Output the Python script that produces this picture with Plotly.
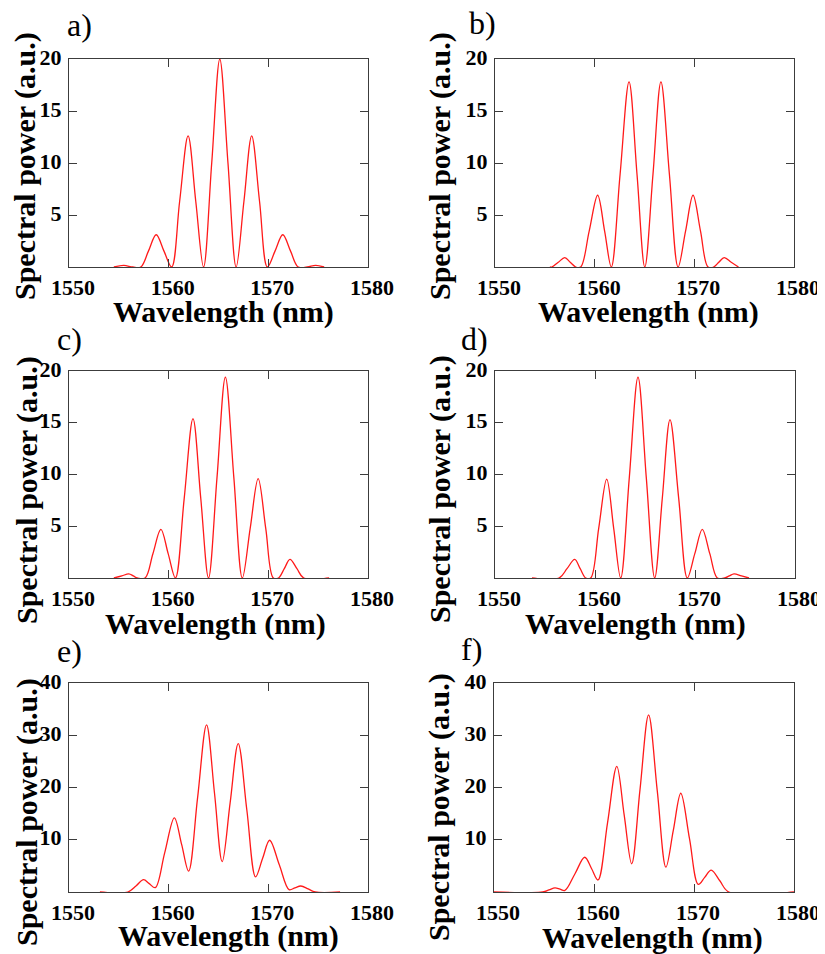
import plotly.graph_objects as go

# ---------------- data ----------------
panel_labels = ["a)", "b)", "c)", "d)", "e)", "f)"]
x_axis_title = "Wavelength (nm)"
y_axis_title = "Spectral power (a.u.)"
x_tick_vals = [1550, 1560, 1570, 1580]
y_tick_vals_small = [5, 10, 15, 20]
y_tick_vals_large = [10, 20, 30, 40]

wl_a = [1554.5, 1555.5, 1556.4, 1557.2, 1557.98, 1558.75, 1559.52, 1560.3, 1561.1, 1561.95,
        1562.72, 1563.5, 1564.32, 1565.13, 1565.95, 1566.77, 1567.55, 1568.33, 1569.12, 1569.9,
        1570.68, 1571.45, 1572.22, 1573.0, 1573.9, 1574.75, 1575.6]
pw_a = [0, 0.15, 0, 0, 1.55, 3.1, 1.55, 0, 6.3, 12.6,
        6.3, 0, 10, 20, 10, 0, 6.3, 12.6, 6.3, 0,
        1.55, 3.1, 1.55, 0, 0, 0.15, 0]

wl_b = [1555.5, 1555.7, 1556.35, 1557.0, 1557.55, 1558.1, 1558.6, 1559.45, 1560.3, 1561.0,
        1561.67, 1562.55, 1563.45, 1564.25, 1565.03, 1565.85, 1566.65, 1567.5, 1568.37, 1569.12,
        1569.87, 1570.62, 1571.37, 1571.93, 1572.45, 1573.0, 1573.7, 1574.43]
pw_b = [0, 0, 0.45, 0.9, 0.45, 0, 0, 3.45, 6.9, 3.45,
        0, 8.9, 17.8, 8.9, 0, 8.9, 17.8, 8.9, 0, 3.45,
        6.9, 3.45, 0, 0, 0.45, 0.9, 0.45, 0]

wl_c = [1554.5, 1555.3, 1556.0, 1556.45, 1556.85, 1557.63, 1558.42, 1559.22, 1559.95, 1560.68,
        1561.56, 1562.44, 1563.22, 1564.0, 1564.85, 1565.69, 1566.54, 1567.39, 1568.18, 1568.98,
        1569.74, 1570.5, 1571.02, 1571.6, 1572.17, 1572.87, 1573.56, 1576.1]
pw_c = [0, 0.2, 0.4, 0.2, 0, 0, 2.35, 4.7, 2.35, 0,
        7.7, 15.4, 7.7, 0, 9.7, 19.4, 9.7, 0, 4.8, 9.6,
        4.8, 0, 0, 0.9, 1.8, 0.9, 0, 0]

wl_d = [1553.7, 1556.4, 1557.2, 1557.97, 1558.52, 1559.07, 1559.57, 1560.37, 1561.17, 1561.87,
        1562.57, 1563.43, 1564.3, 1565.13, 1565.97, 1566.73, 1567.5, 1568.37, 1569.23, 1569.98,
        1570.73, 1571.48, 1572.23, 1572.97, 1573.43, 1573.9, 1574.65, 1575.4]
pw_d = [0, 0, 0.9, 1.8, 0.9, 0, 0, 4.8, 9.55, 4.8,
        0, 9.7, 19.4, 9.7, 0, 7.7, 15.3, 7.7, 0, 2.35,
        4.7, 2.35, 0, 0, 0.2, 0.4, 0.2, 0]

wl_e = [1553.1, 1555.9, 1556.75, 1557.48, 1558.05, 1558.66, 1559.6, 1560.57, 1561.3, 1562.0,
        1562.9, 1563.8, 1564.6, 1565.37, 1566.17, 1566.98, 1567.85, 1568.72, 1569.42, 1570.13,
        1571.1, 1572.08, 1572.67, 1573.26, 1574.0, 1574.7, 1577.2]
pw_e = [0, 0, 1.2, 2.37, 1.6, 0.83, 7.5, 14.2, 9.1, 4.0,
        18.0, 32.0, 18.9, 5.8, 17.1, 28.4, 15.6, 2.9, 6.4, 9.9,
        5.2, 0.45, 0.8, 1.15, 0.6, 0, 0]

wl_f = [1550.0, 1554.87, 1555.5, 1556.1, 1556.6, 1557.09, 1558.1, 1559.07, 1559.75, 1560.4,
        1561.35, 1562.28, 1563.02, 1563.77, 1564.6, 1565.46, 1566.33, 1567.19, 1567.93, 1568.68,
        1569.55, 1570.43, 1571.07, 1571.72, 1572.6, 1573.48, 1580.0]
pw_f = [0, 0, 0.4, 0.8, 0.55, 0.3, 3.5, 6.65, 4.5, 2.3,
        13.2, 24.05, 14.7, 5.4, 19.6, 33.9, 19.3, 4.75, 11.8, 18.9,
        10.2, 1.45, 2.8, 4.2, 2.1, 0, 0]

series = [(wl_a, pw_a), (wl_b, pw_b), (wl_c, pw_c), (wl_d, pw_d), (wl_e, pw_e), (wl_f, pw_f)]
y_ranges = [[0, 20], [0, 20], [0, 20], [0, 20], [0, 40], [0, 40]]
y_ticks = [y_tick_vals_small] * 4 + [y_tick_vals_large] * 2

# ---------------- layout geometry (page pixels) ----------------
PAGE_W, PAGE_H = 825, 954
OFF = 8                      # default body margin of the html page
W, H = PAGE_W - OFF, PAGE_H - OFF


def px(x):
    return (x - OFF) / W


def py(y):
    return 1 - (y - OFF) / H


# plot boxes: (left, right, top, bottom) in page pixels
boxes = [(69, 368, 59, 267), (495, 794, 59, 267),
         (69, 368, 371, 578), (495, 795, 371, 578),
         (69, 368, 683, 892), (494, 794, 683, 892)]
label_pos = [(65, 25), (467, 23), (55, 339), (459, 339), (55, 651), (459, 649)]
ytitle_pos = [(25, 166), (440, 166), (27, 490), (440, 489), (27, 812), (439, 807)]
xtitle_pos = [(223, 312), (648, 312), (215, 624), (635, 624), (228, 936), (652, 938)]

SERIF = "Liberation Serif"
AXCOL = "#3c3c3c"

fig = go.Figure()
layout = dict(template="none", width=W, height=H, autosize=False,
              margin=dict(l=0, r=0, t=0, b=0, pad=0, autoexpand=False),
              paper_bgcolor="white", plot_bgcolor="white", showlegend=False)
annotations = []

for i, ((wl, pw), (l, r, t, b)) in enumerate(zip(series, boxes)):
    n = "" if i == 0 else str(i + 1)
    fig.add_trace(go.Scatter(x=wl, y=pw, mode="lines", xaxis="x" + n, yaxis="y" + n,
                             line=dict(color="#ff1a1a", width=1.3, shape="spline", smoothing=1.0),
                             hoverinfo="skip"))
    layer = "below traces" if i >= 4 else "above traces"
    layout["xaxis" + n] = dict(
        domain=[px(l), px(r)], anchor="y" + n, range=[1550, 1580], automargin=False,
        tickvals=x_tick_vals, ticks="inside", ticklen=8, tickwidth=1.3, tickcolor=AXCOL,
        showline=True, linecolor=AXCOL, linewidth=1.4, mirror="ticks",
        showgrid=False, zeroline=False, layer=layer,
        tickfont=dict(family=SERIF, size=22, color="black", weight="bold"),
        ticklabelstandoff=0, ticklabelshift=4)
    layout["yaxis" + n] = dict(
        domain=[py(b), py(t)], anchor="x" + n, range=y_ranges[i], automargin=False,
        tickvals=y_ticks[i], ticks="inside", ticklen=8, tickwidth=1.3, tickcolor=AXCOL,
        showline=True, linecolor=AXCOL, linewidth=1.4, mirror="ticks",
        showgrid=False, zeroline=False, layer=layer,
        tickfont=dict(family=SERIF, size=22, color="black", weight="bold"),
        ticklabelstandoff=2, ticklabelshift=-2)

    lx, ly = label_pos[i]
    annotations.append(dict(text=panel_labels[i], x=px(lx), y=py(ly), xref="paper", yref="paper",
                            xanchor="left", yanchor="middle", showarrow=False,
                            font=dict(family=SERIF, size=32, color="black")))
    yx, yy = ytitle_pos[i]
    annotations.append(dict(text=y_axis_title, x=px(yx), y=py(yy), xref="paper", yref="paper",
                            xanchor="center", yanchor="middle", textangle=-90, showarrow=False,
                            font=dict(family=SERIF, size=30, color="black", weight="bold")))
    xx, xy = xtitle_pos[i]
    annotations.append(dict(text=x_axis_title, x=px(xx), y=py(xy), xref="paper", yref="paper",
                            xanchor="center", yanchor="middle", showarrow=False,
                            font=dict(family=SERIF, size=30, color="black", weight="bold")))

layout["annotations"] = annotations
fig.update_layout(**layout)
fig.write_html("out.html")
